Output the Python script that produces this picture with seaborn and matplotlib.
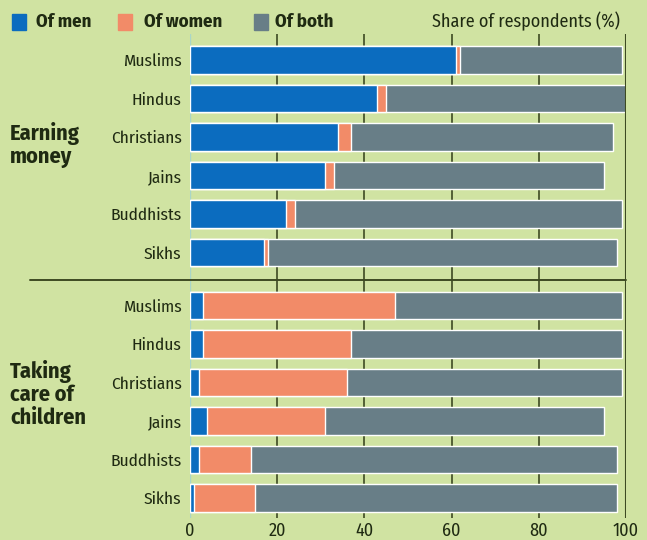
import matplotlib
matplotlib.use("Agg")
import matplotlib.pyplot as plt
from matplotlib.lines import Line2D
from matplotlib.patches import Rectangle
import seaborn as sns
import pandas as pd

# ---- data ----
religions = ["Muslims", "Hindus", "Christians", "Jains", "Buddhists", "Sikhs"]
earn_men = [61, 43, 34, 31, 22, 17]
earn_women = [1, 2, 3, 2, 2, 1]
earn_both = [37, 55, 60, 62, 75, 80]
care_men = [3, 3, 2, 4, 2, 1]
care_women = [44, 34, 34, 27, 12, 14]
care_both = [52, 62, 63, 64, 84, 83]
x_ticks = [0, 20, 40, 60, 80, 100]
legend_labels = ["Of men", "Of women", "Of both"]
section_titles = ["Earning\nmoney", "Taking\ncare of\nchildren"]
axis_title = "Share of respondents (%)"

BG = "#d0e3a2"
BLUE = "#0b6cbf"
SALMON = "#f28b68"
GRAY = "#687e87"
GRID = "#3d4a22"
TXT = "#1f2a12"

sns.set_theme(style="white")
plt.rcParams["font.family"] = ["Fira Sans Condensed", "Roboto Condensed", "DejaVu Sans"]

W, H = 647, 540
fig = plt.figure(figsize=(W / 100, H / 100), dpi=100, facecolor=BG)

def fx(px):
    return px / W

def fy(py):
    return 1 - py / H

x0, x1 = 190, 626
ax1 = fig.add_axes([fx(x0), fy(280), (x1 - x0) / W, (280 - 34) / H])
ax2 = fig.add_axes([fx(x0), fy(518), (x1 - x0) / W, (518 - 280) / H])

def draw(ax, men, women, both, ylim):
    df = pd.DataFrame({
        "religion": religions,
        "men": men,
        "mw": [m + w for m, w in zip(men, women)],
        "total": [m + w + b for m, w, b in zip(men, women, both)],
    })
    ax.set_facecolor(BG)
    for col, c in [("total", GRAY), ("mw", SALMON), ("men", BLUE)]:
        sns.barplot(data=df, y="religion", x=col, order=religions, orient="h",
                    color=c, saturation=1, width=0.71, ax=ax, zorder=3)
    for v in x_ticks[1:-1]:
        ax.axvline(v, color=GRID, lw=1.2, zorder=1)
    ax.axvline(100, color=GRID, lw=1.5, zorder=4)
    ax.axvline(0, color="#a9d6c8", lw=1.0, zorder=2)
    ax.set_xlim(0, 100)
    ax.set_ylim(*ylim)
    ax.set_xlabel("")
    ax.set_ylabel("")
    for s in ax.spines.values():
        s.set_visible(False)
    ax.tick_params(axis="y", length=0, pad=6, labelsize=12.5, labelcolor=TXT)
    ax.tick_params(axis="x", length=0)

draw(ax1, earn_men, earn_women, earn_both, (5.714, -0.675))
draw(ax2, care_men, care_women, care_both, (5.52, -0.662))

ax1.set_xticks(x_ticks)
ax1.set_xticklabels([])
ax2.set_xticks(x_ticks)
ax2.set_xticklabels([str(v) for v in x_ticks], fontsize=13, color=TXT)
ax2.tick_params(axis="x", pad=3)

# separator
fig.add_artist(Line2D([fx(30), fx(626)], [fy(280), fy(280)], color=GRID, lw=1.4))

# section titles
fig.text(fx(10), fy(122), section_titles[0], ha="left", va="top", fontsize=16,
         fontweight="bold", color=TXT, linespacing=1.08)
fig.text(fx(10), fy(360), section_titles[1], ha="left", va="top", fontsize=16,
         fontweight="bold", color=TXT, linespacing=1.1)

# legend
sq = [(12, 36, BLUE), (118, 144, SALMON), (254, 275, GRAY)]
for (px, tx, c), lab in zip(sq, legend_labels):
    fig.add_artist(Rectangle((fx(px), fy(30)), 14 / W, 16 / H, color=c,
                             transform=fig.transFigure))
    fig.text(fx(tx), fy(22), lab, ha="left", va="center", fontsize=13.5,
             fontweight="bold", color=TXT)
fig.text(fx(620), fy(21), axis_title, ha="right", va="center", fontsize=13,
         color=TXT)

fig.savefig("out.png", dpi=100, facecolor=BG)
